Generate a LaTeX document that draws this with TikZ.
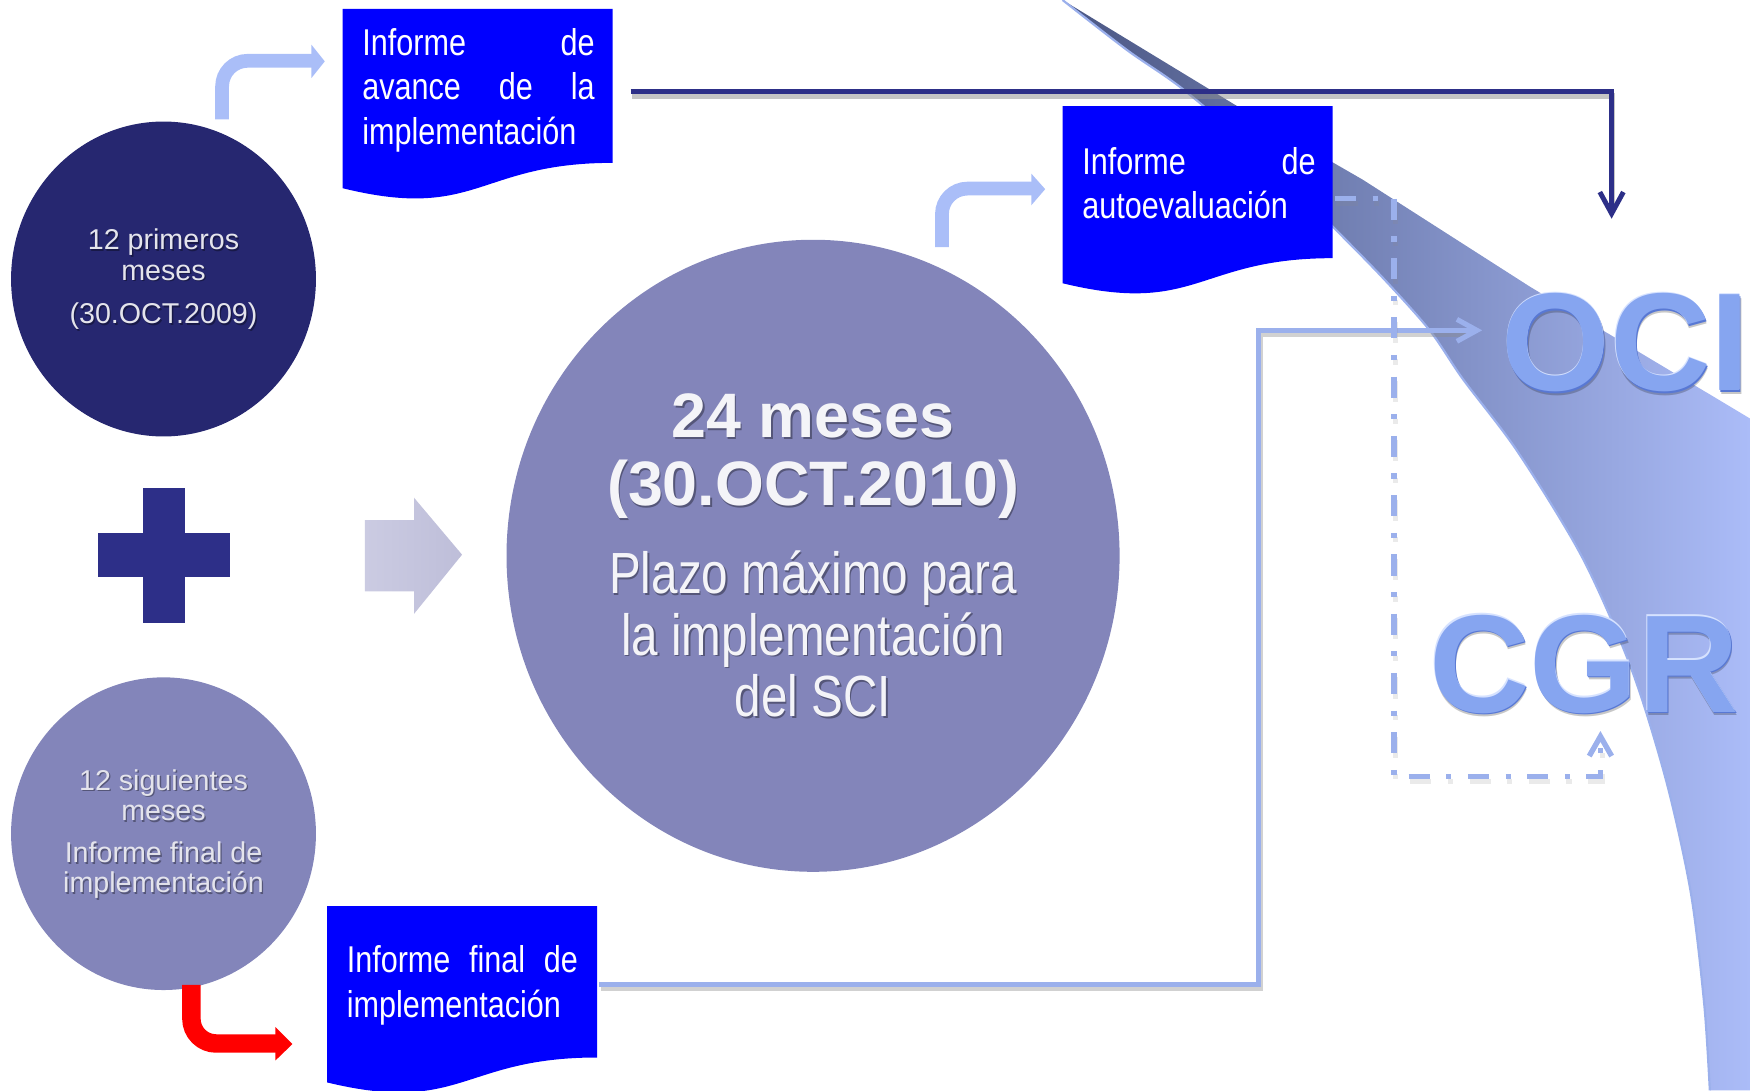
\documentclass[tikz,border=0pt]{standalone}
\usepackage{fontspec}
\setmainfont{Liberation Sans}
\newfontfamily\narrowfont[FakeStretch=0.82]{Liberation Sans}
\usetikzlibrary{shapes.geometric,arrows.meta}

\definecolor{boxblue}{HTML}{0000FF}
\definecolor{navyline}{HTML}{2D2F88}
\definecolor{darkcirc}{HTML}{262770}
\definecolor{lavcirc}{HTML}{8385BA}
\definecolor{lightarrow}{HTML}{AABEF8}
\definecolor{lineblue}{HTML}{9BB0EC}
\definecolor{grayarrowL}{HTML}{CBCBE2}
\definecolor{grayarrowR}{HTML}{BEBED9}
\definecolor{bandDark}{HTML}{4A5683}
\definecolor{bandLight}{HTML}{ABBCF8}
\definecolor{ociface}{HTML}{86A5F0}
\definecolor{ociedge}{HTML}{5878D4}
\definecolor{ocihigh}{HTML}{D6E2FF}
\definecolor{circtext}{HTML}{E4E4EC}
\definecolor{bigtext}{HTML}{F4F4F8}

\newcommand{\docshape}[4]{%
  \fill[boxblue] (#1,#2) -- ({#1+#3},#2) -- ({#1+#3},{#2+0.802*#4})
    .. controls ({#1+0.5*#3},{#2+0.802*#4}) and ({#1+0.5*#3},{#2+1.1075*#4}) .. ({#1},{#2+0.934*#4}) -- cycle;}

\newcommand{\shtext}[4]{%
  \node[#3, anchor=base, text=black, opacity=0.35, xshift=0.35pt, yshift=-0.45pt] (#1s) at #2 {#4};
  \node[#3, anchor=base] (#1) at #2 {#4};}

\tikzset{
  boxtext/.style={text=white, inner sep=0pt, anchor=base west, font=\narrowfont\fontsize{9.5}{11.4}\selectfont},
  smalltxt/.style={text=circtext, inner sep=0pt, font=\fontsize{7.3}{8.8}\selectfont},
  bigbold/.style={text=bigtext, inner sep=0pt, font=\bfseries\fontsize{16}{17}\selectfont},
  bignarrow/.style={text=bigtext, inner sep=0pt, font=\narrowfont\fontsize{14.8}{15.6}\selectfont},
  ocifont/.style={inner sep=0pt, anchor=base west, font=\bfseries\fontsize{35.5}{40}\selectfont},
  circ/.style={ellipse, inner sep=0pt},
  bentarrow/.style={draw=lightarrow, line width=3.5pt, rounded corners=6.5pt},
  shadowline/.style={draw=black!45, opacity=0.5},
  dashdot/.style={dash pattern=on 5.4pt off 4.2pt on 1.3pt off 4.2pt},
}

\begin{document}
\begin{tikzpicture}[x=0.01cm,y=-0.01cm]
\useasboundingbox (0,0) rectangle (1568,977);
\clip (0,0) rectangle (1568,977);

% ---------- right curved band ----------
\shade[left color=bandDark, right color=bandLight]
  plot[smooth] coordinates {(952,0) (1010,45) (1060,80) (1130,140) (1195,204) (1240,250) (1281,296) (1311,340) (1360,405) (1418,500) (1462,600) (1493,700) (1515,800) (1527,900) (1532,977)}
  -- (1568,977) -- (1568,375) -- (1371,257) -- (1221,161) -- (1195,146) -- (1105,93) -- cycle;
\draw[lineblue, line width=0.55pt]
  plot[smooth] coordinates {(952,0) (1010,45) (1060,80) (1130,140) (1195,204) (1240,250) (1281,296) (1311,340) (1360,405) (1418,500) (1462,600) (1493,700) (1515,800) (1527,900) (1532,977)};

% ---------- circles ----------
\node[circ, fill=darkcirc, minimum width=2.73cm, minimum height=2.82cm] (c1) at (146.5,250) {};
\node[circ, fill=lavcirc, minimum width=2.73cm, minimum height=2.80cm] (c2) at (146.5,747) {};
\node[circ, fill=lavcirc, minimum width=5.49cm, minimum height=5.66cm] (c3) at (728.5,498) {};

% circle texts
\shtext{c1a}{(146.5,224)}{smalltxt}{12 primeros}
\shtext{c1b}{(146.5,251)}{smalltxt}{meses}
\shtext{c1c}{(146.5,290)}{smalltxt}{(30.OCT.2009)}

\shtext{c2a}{(146.5,708)}{smalltxt}{12 siguientes}
\shtext{c2b}{(146.5,735)}{smalltxt}{meses}
\shtext{c2c}{(146.5,773)}{smalltxt}{Informe final de}
\shtext{c2d}{(146.5,800)}{smalltxt}{implementación}

\shtext{c3a}{(728.5,392)}{bigbold}{24 meses}
\shtext{c3b}{(728.5,453)}{bigbold}{(30.OCT.2010)}
\shtext{c3c}{(728.5,532)}{bignarrow}{Plazo máximo para}
\shtext{c3d}{(728.5,587)}{bignarrow}{la implementación}
\shtext{c3e}{(728.5,642)}{bignarrow}{del SCI}

% ---------- plus sign ----------
\fill[navyline] (128,437) rectangle (166,558);
\fill[navyline] (88,478) rectangle (206,517);

% ---------- grey block arrow ----------
\shade[left color=grayarrowL, right color=grayarrowR]
  (327,466) -- (371,466) -- (371,446) -- (414,497) -- (371,550) -- (371,530) -- (327,530) -- cycle;

% ---------- document boxes ----------
\docshape{307}{8}{242}{172}
\docshape{952}{95}{242}{170}
\docshape{293}{812}{242}{169}

\node[boxtext] (b1) at (324,49.5) {\parbox[t]{2.08cm}{Informe\hfill de\\avance\hfill de\hfill la\\implementación}};
\node[boxtext] (b2) at (969,156) {\parbox[t]{2.09cm}{Informe\hfill de\\autoevaluación}};
\node[boxtext] (b3) at (310,871.5) {\parbox[t]{2.07cm}{Informe\hfill final\hfill de\\implementación}};

% ---------- connector coordinates ----------
\coordinate (b1E) at (565,82);
\coordinate (ociN) at (1444,196);
\coordinate (b3E) at (537,882);
\coordinate (lbBend) at (1128,882);
\coordinate (ociW) at (1328,296);
\coordinate (b2E) at (1196,178);
\coordinate (ddBend) at (1249,696);
\coordinate (cgrS) at (1434,655);

% navy connector box1 -> OCI
\draw[shadowline, line width=1.3pt] ([shift={(1,4)}]b1E) -| (1445,188);
\draw[navyline, line width=1.25pt, -{Straight Barb[length=5.5pt,width=6pt]}] (b1E) -| (ociN);

% light blue connector box3 -> OCI
\draw[shadowline, line width=1.2pt, opacity=0.4] ([shift={(1.5,4)}]b3E) -- ([shift={(1.5,4)}]lbBend) |- (1318,300);
\draw[lineblue, line width=1.28pt, -{Straight Barb[length=5.1pt,width=5.6pt]}] (b3E) -- (lbBend) |- (ociW);

% dash-dot connector box2 -> CGR
\draw[shadowline, dashdot, line width=1.3pt, opacity=0.18] ([shift={(1.5,4)}]b2E) -| ([shift={(1.5,4)}]ddBend) -| (1435.5,675);
\draw[lineblue, line width=1.37pt, dashdot,
      -{Straight Barb[length=5pt,width=5.7pt]}] (b2E) -| (ddBend) -| (cgrS);

% ---------- bent arrows ----------
\coordinate (aA0) at (199,107);
\coordinate (aA1) at (280,54.5);
\draw[bentarrow] (aA0) |- (aA1);
\fill[lightarrow] (279,40) -- (291,55) -- (279,70) -- cycle;

\coordinate (aB0) at (844,221.5);
\coordinate (aB1) at (925,169);
\draw[bentarrow] (aB0) |- (aB1);
\fill[lightarrow] (924,155.5) -- (936.5,169.5) -- (924,184) -- cycle;

\coordinate (aC0) at (171.5,882.5);
\coordinate (aC1) at (248,935);
\draw[draw=red, line width=4.7pt, rounded corners=6.3pt] (aC0) |- (aC1);
\fill[red] (246.8,920.3) -- (262,935.5) -- (246.8,950.2) -- cycle;

% ---------- OCI / CGR labels ----------
\node[ocifont, text=black, opacity=0.22] (ocis) at (1346,353.5) {OCI};
\node[ocifont, text=ociedge] (ocie) at (1345.8,351.4) {OCI};
\node[ocifont, text=ocihigh] (ocih) at (1344.2,349) {OCI};
\node[ocifont, text=ociface] (oci) at (1345,350) {OCI};

\node[ocifont, text=black, opacity=0.22] (cgrs) at (1281,641.5) {CGR};
\node[ocifont, text=ociedge] (cgre) at (1280.8,639.4) {CGR};
\node[ocifont, text=ocihigh] (cgrh) at (1279.2,637) {CGR};
\node[ocifont, text=ociface] (cgr) at (1280,638) {CGR};

\end{tikzpicture}
\end{document}
